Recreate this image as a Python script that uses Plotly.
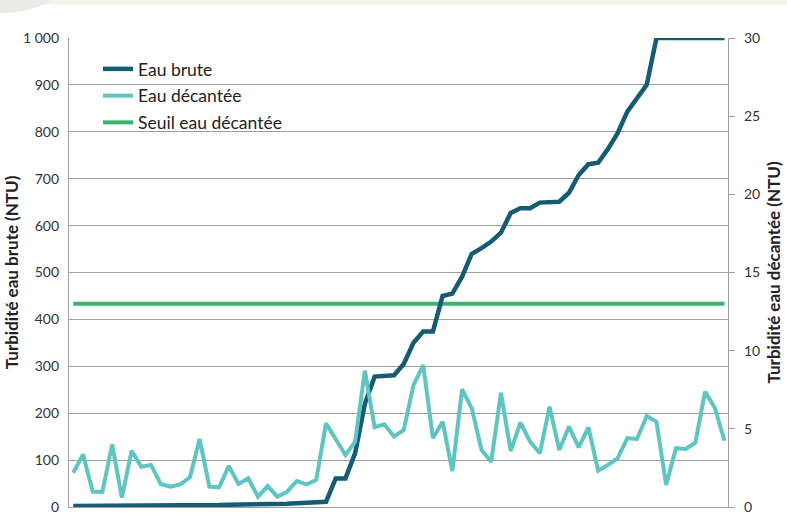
import plotly.graph_objects as go

# ---- data ----
jours = list(range(1, 69))

eau_brute = [2, 2, 2, 2, 2, 2, 3, 3, 3, 3,
             3, 3, 4, 4, 4, 4, 5, 5, 5, 6,
             6, 7, 7, 8, 9, 10, 11, 61, 61, 115,
             220, 278, 280, 281, 305, 350, 374, 374, 450, 455,
             491, 540, 552, 566, 585, 627, 637, 637, 649, 649,
             651, 670, 708, 731, 734, 763, 797, 843, 873, 900,
             1000, 1000, 1000, 1000, 1000, 1000, 1000, 1000]

eau_decantee = [2.19, 3.37, 0.98, 0.98, 4.01, 0.60, 3.60, 2.58, 2.69, 1.47,
                1.30, 1.45, 1.90, 4.35, 1.30, 1.26, 2.62, 1.47, 1.84, 0.66,
                1.34, 0.66, 0.98, 1.66, 1.45, 1.73, 5.35, 4.29, 3.33, 4.18,
                8.72, 5.10, 5.29, 4.50, 4.93, 7.80, 9.08, 4.40, 5.46, 2.30,
                7.53, 6.31, 3.65, 2.90, 7.31, 3.58, 5.39, 4.18, 3.44, 6.42,
                3.65, 5.14, 3.82, 5.10, 2.32, 2.69, 3.11, 4.40, 4.35, 5.82,
                5.46, 1.41, 3.76, 3.71, 4.11, 7.38, 6.35, 4.24]

seuil = [13] * len(jours)

left_ticks = [0, 100, 200, 300, 400, 500, 600, 700, 800, 900, 1000]
right_ticks = [0, 5, 10, 15, 20, 25, 30]

C_BRUTE = "#155b73"
C_DEC = "#5ec5c3"
C_SEUIL = "#38b46f"
GRID = "#a0a0a0"
FONT = "Lato"

fig = go.Figure()

fig.add_trace(go.Scatter(x=jours, y=eau_brute, mode="lines", name="Eau brute",
                         yaxis="y2", legendgroup="a", legendrank=1,
                         line=dict(color=C_BRUTE, width=4.5)))
fig.add_trace(go.Scatter(x=jours, y=eau_decantee, mode="lines", name="Eau décantée",
                         yaxis="y3", legendgroup="b", legendrank=2,
                         line=dict(color=C_DEC, width=4)))
fig.add_trace(go.Scatter(x=jours, y=seuil, mode="lines", name="Seuil eau décantée",
                         yaxis="y", legendgroup="c", legendrank=3,
                         line=dict(color=C_SEUIL, width=4)))

W, H = 787, 532
L, R, T, B = 69, 59, 38, 25
pw, ph = W - L - R, H - T - B

def px(x):
    return (x - L) / pw

def py(y):
    return (H - B - y) / ph

shapes = [
    dict(type="rect", xref="paper", yref="paper", x0=px(0), x1=px(W), y0=py(4.5), y1=py(0),
         fillcolor="#f4f4f0", line=dict(width=0), layer="below"),
    dict(type="circle", xref="paper", yref="paper", x0=px(5 - 88), x1=px(5 + 88),
         y0=py(-75 + 88), y1=py(-75 - 88),
         fillcolor="#ebebe6", line=dict(width=0), layer="below"),
]

fig.update_layout(
    width=W, height=H,
    margin=dict(l=L, r=R, t=T, b=B, autoexpand=False),
    paper_bgcolor="white", plot_bgcolor="white",
    separators=", ",
    font=dict(family=FONT, size=14, color="#333333"),
    shapes=shapes,
    showlegend=True,
    legend=dict(x=px(98), y=py(51), xanchor="left", yanchor="top",
                bgcolor="rgba(0,0,0,0)", font=dict(size=17.5, color="#222222"),
                tracegroupgap=1, itemwidth=30, traceorder="grouped"),
    xaxis=dict(range=[0.56, 68.36], showgrid=False, zeroline=False, showticklabels=False,
               ticks="", showline=True, linecolor=GRID, linewidth=1.2, mirror=False),
    yaxis=dict(range=[0, 30], side="right", tickvals=right_ticks, showgrid=False,
               zeroline=False, showline=True, linecolor=GRID, linewidth=1.2,
               ticks="outside", ticklen=6, tickcolor=GRID, ticklabelstandoff=6,
               title=dict(text="<b>Turbidité eau décantée (NTU)</b>", font=dict(size=17, color="#222222"),
                          standoff=8)),
    yaxis2=dict(range=[0, 1000], side="left", overlaying="y", tickvals=left_ticks,
                separatethousands=True, showgrid=True, gridcolor=GRID, gridwidth=1.2,
                zeroline=False, showline=True, linecolor=GRID, linewidth=1.2,
                ticks="", ticklabelstandoff=6,
                title=dict(text="<b>Turbidité eau brute (NTU)</b>", font=dict(size=17, color="#222222"),
                           standoff=0)),
    yaxis3=dict(range=[0, 30], overlaying="y", visible=False, showgrid=False),
)

fig.write_html("out.html", config={"displayModeBar": False},
               post_script="document.body.style.margin='0';")
